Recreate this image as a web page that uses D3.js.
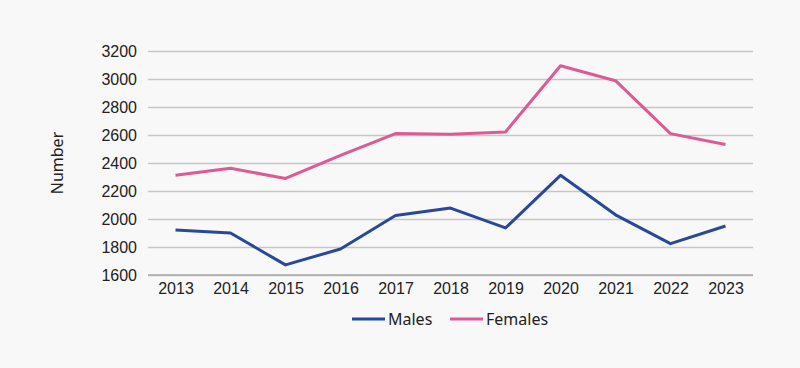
<!DOCTYPE html>
<html><head><meta charset="utf-8">
<script src="https://cdn.jsdelivr.net/npm/d3@7"></script>
<style>
html,body{margin:0;padding:0;background:#f8f8f8;}
svg{display:block;font-family:"Noto Sans", sans-serif;}
</style></head>
<body>
<svg id="chart" width="800" height="368"></svg>
<script>
const years = ["2013","2014","2015","2016","2017","2018","2019","2020","2021","2022","2023"];
const males = [1922, 1900, 1672, 1786, 2025, 2078, 1936, 2312, 2030, 1824, 1950];
const females = [2313, 2362, 2290, 2455, 2610, 2605, 2622, 3095, 2988, 2610, 2532];
const yTicks = [1600, 1800, 2000, 2200, 2400, 2600, 2800, 3000, 3200];
const seriesNames = ["Males", "Females"];
const colors = ["#2a4899", "#dc5b94"];

const svg = d3.select("#chart");
const m = {left:148, right:47, top:51, bottom:93};
const W = 800, H = 368;
const x = d3.scalePoint().domain(years).range([m.left, W - m.right]).padding(0.5);
const y = d3.scaleLinear().domain([1600, 3200]).range([H - m.bottom, m.top]);

const yAxis = d3.axisLeft(y).tickValues(yTicks).tickSize(-(W - m.left - m.right)).tickPadding(11).tickFormat(d3.format("d"));
const gy = svg.append("g").attr("transform", `translate(${m.left},0)`).call(yAxis);
gy.select(".domain").remove();
gy.selectAll(".tick line").attr("stroke", "#c6c6c6").attr("stroke-width", 1.5);
gy.selectAll(".tick text").attr("fill", "#222").attr("font-size", 16);

const xAxis = d3.axisBottom(x).tickSize(0).tickPadding(8);
const gx = svg.append("g").attr("transform", `translate(0,${H - m.bottom})`).call(xAxis);
gx.select(".domain").attr("stroke", "#a8a8a8").attr("stroke-width", 1.5).attr("d", `M${m.left},0H${W - m.right}`);
gx.selectAll(".tick text").attr("fill", "#222").attr("font-size", 16);

svg.append("text").attr("transform", `translate(63,${(m.top + H - m.bottom)/2}) rotate(-90)`)
  .attr("text-anchor", "middle").attr("fill", "#222").attr("font-size", 16).text("Number");

const line = d3.line().x((d,i) => x(years[i])).y(d => y(d));
[males, females].forEach((s, k) => {
  svg.append("path").datum(s).attr("fill", "none").attr("stroke", colors[k])
    .attr("stroke-width", 3).attr("stroke-linejoin", "round").attr("d", line);
});

const legX = [352, 450];
seriesNames.forEach((n, k) => {
  const g = svg.append("g").attr("transform", `translate(${legX[k]},319)`);
  g.append("line").attr("x1", 0).attr("x2", 33).attr("y1", 0).attr("y2", 0).attr("stroke", colors[k]).attr("stroke-width", 3);
  g.append("text").attr("x", 36).attr("y", 5.5).attr("fill", "#222").attr("font-size", 16).text(n);
});
</script>
</body></html>
